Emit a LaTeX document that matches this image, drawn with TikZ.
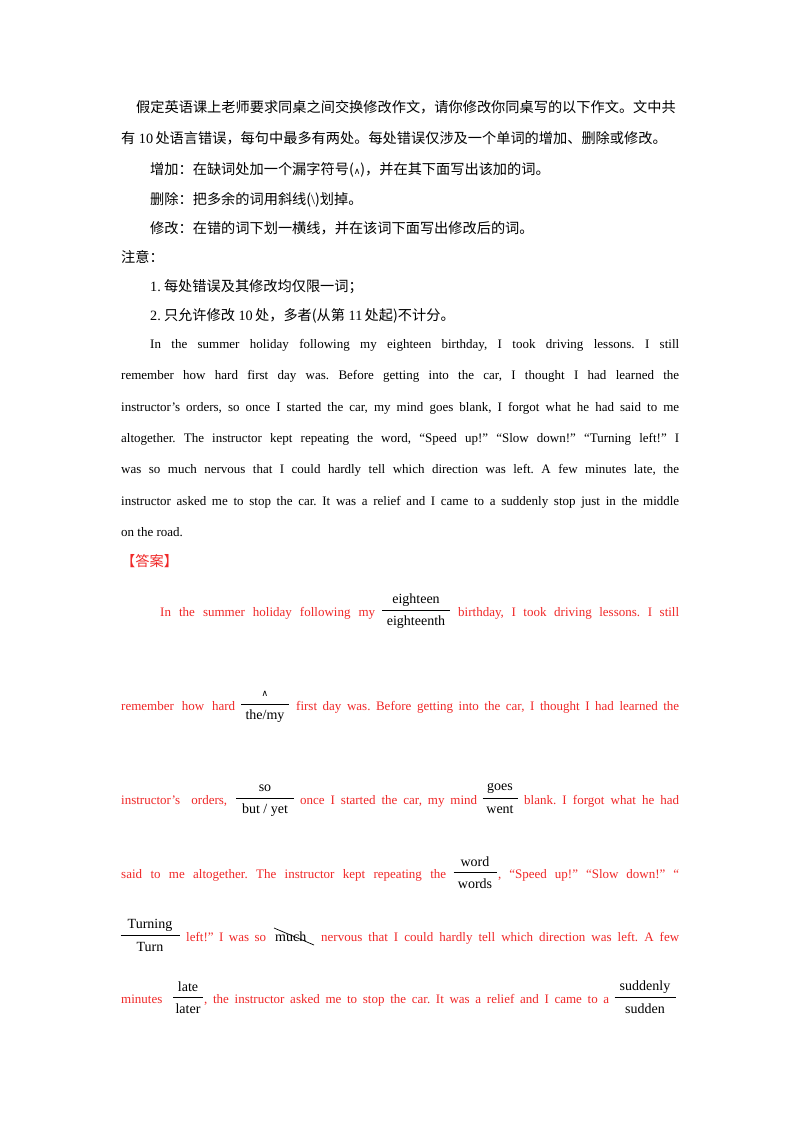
\documentclass[tikz,border=0pt]{standalone}
\usepackage{fontspec}
\setmainfont{Liberation Serif}
\newfontfamily\cjk{Noto Sans CJK SC}
\newfontfamily\djv{DejaVu Sans}
\definecolor{ansred}{RGB}{240,40,40}
\newcommand{\seg}[5]{\node[txt] (#1) at (#2,#3) {\makebox[#4pt][s]{#5}};}
\newcommand{\segn}[4]{\node[txt] (#1) at (#2,#3) {#4};}
\newcommand{\frc}[6]{%
 \node[frac] (#1n) at (#2,#3-11) {#5};
 \node[frac] (#1d) at (#2,#3+11) {#6};
 \coordinate (#1a) at (#2-#4/2,#3-1); \coordinate (#1b) at (#2+#4/2,#3-1);
 \draw[line width=0.7pt] (#1a) -- (#1b);}
\begin{document}
\frenchspacing
\begin{tikzpicture}[x=1pt,y=-1pt,
 txt/.style={anchor=base west,inner sep=0pt,font=\fontsize{13}{15}\selectfont\frenchspacing},
 ctxt/.style={txt,font=\fontsize{14.2}{16}\selectfont\cjk},
 frac/.style={anchor=center,inner sep=0pt,font=\fontsize{14}{16}\selectfont}]
\useasboundingbox (0,0) rectangle (800,1132);
\fill[white] (0,0) rectangle (800,1132);
% Chinese instructions
\node[ctxt] (c1) at (136,112) {假定英语课上老师要求同桌之间交换修改作文，请你修改你同桌写的以下作文。文中共};
\node[ctxt] (c2) at (121,143) {有{\rmfamily\ 10\,}处语言错误，每句中最多有两处。每处错误仅涉及一个单词的增加、删除或修改。};
\node[ctxt] (c3) at (150,174) {增加：在缺词处加一个漏字符号({\djv\small ∧})，并在其下面写出该加的词。};
\node[ctxt] (c4) at (150,204) {删除：把多余的词用斜线({\rmfamily \textbackslash})划掉。};
\node[ctxt] (c5) at (150,233) {修改：在错的词下划一横线，并在该词下面写出修改后的词。};
\node[ctxt] (c6) at (121,262) {注意：};
\node[ctxt] (c7) at (150,291) {{\rmfamily 1.} 每处错误及其修改均仅限一词；};
\node[ctxt] (c8) at (150,320) {{\rmfamily 2.} 只允许修改{\rmfamily\ 10\,}处，多者({\rmfamily}从第{\rmfamily\ 11\,}处起)不计分。};
% English passage
\seg{e1}{150}{348}{529}{In the summer holiday following my eighteen birthday, I took driving lessons. I still}
\seg{e2}{121}{379}{558}{remember how hard first day was. Before getting into the car, I thought I had learned the}
\seg{e3}{121}{411}{558}{instructor’s orders, so once I started the car, my mind goes blank, I forgot what he had said to me}
\seg{e4}{121}{442}{558}{altogether. The instructor kept repeating the word, “Speed up!” “Slow down!” “Turning left!” I}
\seg{e5}{121}{473}{558}{was so much nervous that I could hardly tell which direction was left. A few minutes late, the}
\seg{e6}{121}{505}{558}{instructor asked me to stop the car. It was a relief and I came to a suddenly stop just in the middle}
\segn{e7}{121}{536}{on the road.}
\node[ctxt,text=ansred] (ans) at (121,566) {【答案】};
% Answers
\begin{scope}[every node/.append style={text=ansred}]
\seg{a1}{160}{616}{215}{In the summer holiday following my}
\seg{a1b}{458}{616}{221}{birthday, I took driving lessons. I still}
\seg{a2}{121}{710}{114}{remember how hard}
\seg{a2b}{296}{710}{383}{first day was. Before getting into the car, I thought I had learned the}
\seg{a3}{121}{804}{106}{instructor’s orders,}
\seg{a3b}{300}{804}{177}{once I started the car, my mind}
\seg{a3c}{524}{804}{155}{blank. I forgot what he had}
\seg{a4}{121}{878}{325}{said to me altogether. The instructor kept repeating the}
\seg{a4b}{498}{878}{181}{, “Speed up!” “Slow down!” “}
\seg{a5}{186}{941}{80}{left!” I was so}
\seg{a5b}{321}{941}{358}{nervous that I could hardly tell which direction was left. A few}
\seg{a6}{121}{1003}{45}{minutes}
\seg{a6b}{204}{1003}{405}{, the instructor asked me to stop the car. It was a relief and I came to a}
\end{scope}
\frc{f1}{416}{611}{68}{eighteen}{eighteenth}
\frc{f2}{265}{705}{48}{{\djv\small ∧}}{the/my}
\frc{f3}{265}{799}{58}{so}{but / yet}
\frc{f4}{500}{799}{35}{goes}{went}
\frc{f5}{475}{873}{43}{word}{words}
\frc{f6}{150}{936}{59}{Turning}{Turn}
\frc{f7}{188}{998}{30}{late}{later}
\frc{f8}{645}{998}{61}{suddenly}{sudden}
\node[txt,font=\fontsize{14}{16}\selectfont] (much) at (275,941) {much};
\coordinate (s1) at (274,928); \coordinate (s2) at (314,945);
\draw[line width=0.7pt] (s1) -- (s2);
\end{tikzpicture}
\end{document}
